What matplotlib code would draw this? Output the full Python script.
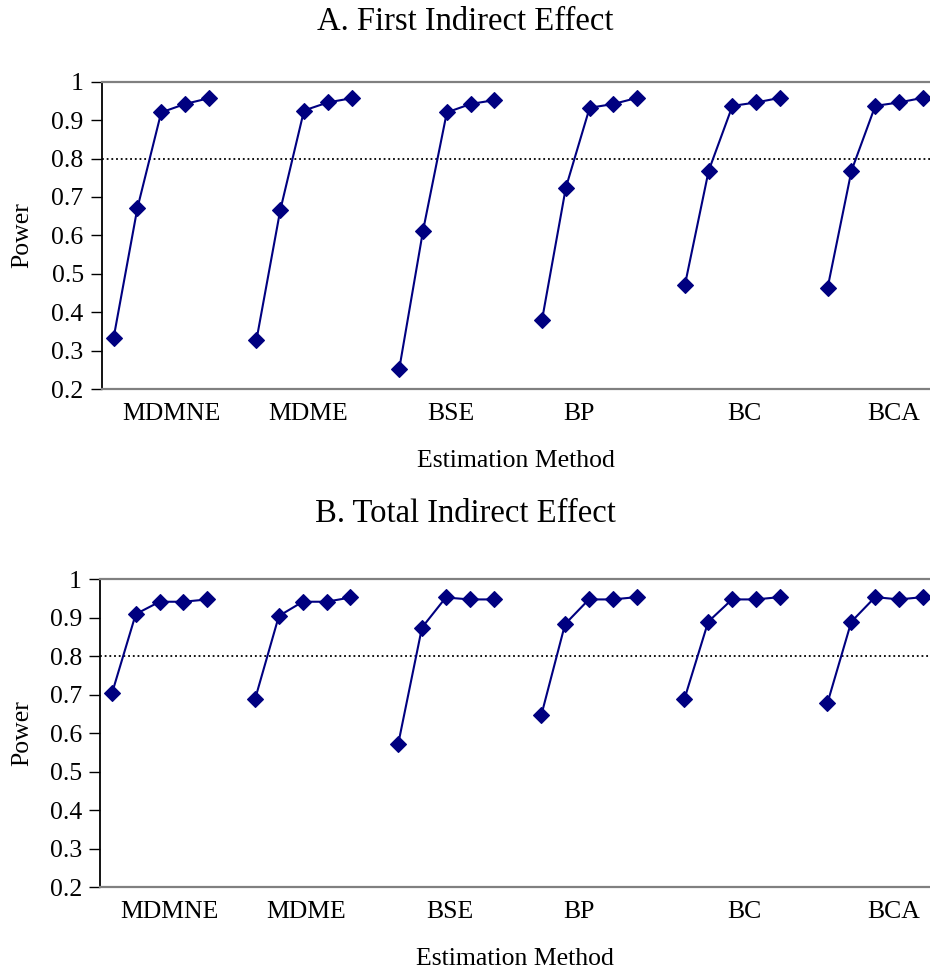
import numpy as np
import matplotlib
matplotlib.use("Agg")
import matplotlib.pyplot as plt

plt.rcParams['font.family'] = ['Liberation Serif', 'DejaVu Serif']

methods = ["MDMNE", "MDME", "BSE", "BP", "BC", "BCA"]
# label positions along the category axis (slot units)
label_pos = [2.42, 8.16, 14.17, 19.57, 26.5, 32.76]

first_indirect = [
    [0.333, 0.671, 0.920, 0.942, 0.957],
    [0.327, 0.665, 0.925, 0.946, 0.957],
    [0.252, 0.612, 0.920, 0.942, 0.952],
    [0.380, 0.724, 0.932, 0.942, 0.958],
    [0.470, 0.768, 0.937, 0.946, 0.958],
    [0.464, 0.768, 0.937, 0.946, 0.958],
]
total_indirect = [
    [0.703, 0.909, 0.941, 0.941, 0.947],
    [0.688, 0.904, 0.941, 0.941, 0.952],
    [0.571, 0.874, 0.952, 0.947, 0.947],
    [0.646, 0.883, 0.947, 0.947, 0.953],
    [0.688, 0.889, 0.947, 0.947, 0.953],
    [0.678, 0.889, 0.953, 0.947, 0.953],
]
y_ticks = [0.2, 0.3, 0.4, 0.5, 0.6, 0.7, 0.8, 0.9, 1.0]
y_tick_labels = ["0.2", "0.3", "0.4", "0.5", "0.6", "0.7", "0.8", "0.9", "1"]
threshold = 0.8

W, H = 930, 973
fig = plt.figure(figsize=(W / 100, H / 100), dpi=100)

navy = "#000080"
fs = 18.5


def panel(rect, data, title, title_y):
    ax = fig.add_axes(rect)
    for g, vals in enumerate(data):
        x = 6 * g + np.arange(len(vals))
        ax.plot(x, vals, color=navy, lw=1.5, marker="D", ms=8,
                mfc=navy, mec=navy, mew=0.8, zorder=3)
    ax.axhline(threshold, color="black", lw=1.3, ls=(0, (1, 1.6)), zorder=2)
    ax.set_xlim(-0.5, 34.3)
    ax.set_ylim(0.2, 1.0)
    ax.set_yticks(y_ticks)
    ax.set_yticklabels(y_tick_labels, fontsize=fs)
    ax.tick_params(axis="y", length=8, width=1, direction="out", pad=5,
                   color="black")
    ax.set_xticks(label_pos)
    ax.set_xticklabels(methods, fontsize=fs)
    ax.tick_params(axis="x", length=0, pad=10)
    ax.spines["right"].set_visible(False)
    ax.spines["left"].set_color("black")
    ax.spines["left"].set_linewidth(1.3)
    for s in ("top", "bottom"):
        ax.spines[s].set_color("#808080")
        ax.spines[s].set_linewidth(1.6)
    ax.set_xlabel("Estimation Method", fontsize=fs, labelpad=18)
    fig.text(465 / W, 1 - title_y / H, title, fontsize=23.5,
             ha="center", va="center")
    return ax


axA = panel([101.7 / W, 1 - 389 / H, 1 - 101.7 / W, (389 - 81.7) / H],
            first_indirect, "A. First Indirect Effect", 22)
axB = panel([100 / W, 1 - 887.3 / H, 1 - 100 / W, (887.3 - 579) / H],
            total_indirect, "B. Total Indirect Effect", 514)

fig.text(22 / W, 1 - 235 / H, "Power", fontsize=fs, rotation=90,
         ha="center", va="center")
fig.text(22 / W, 1 - 733 / H, "Power", fontsize=fs, rotation=90,
         ha="center", va="center")

fig.savefig("out.png", dpi=100)
